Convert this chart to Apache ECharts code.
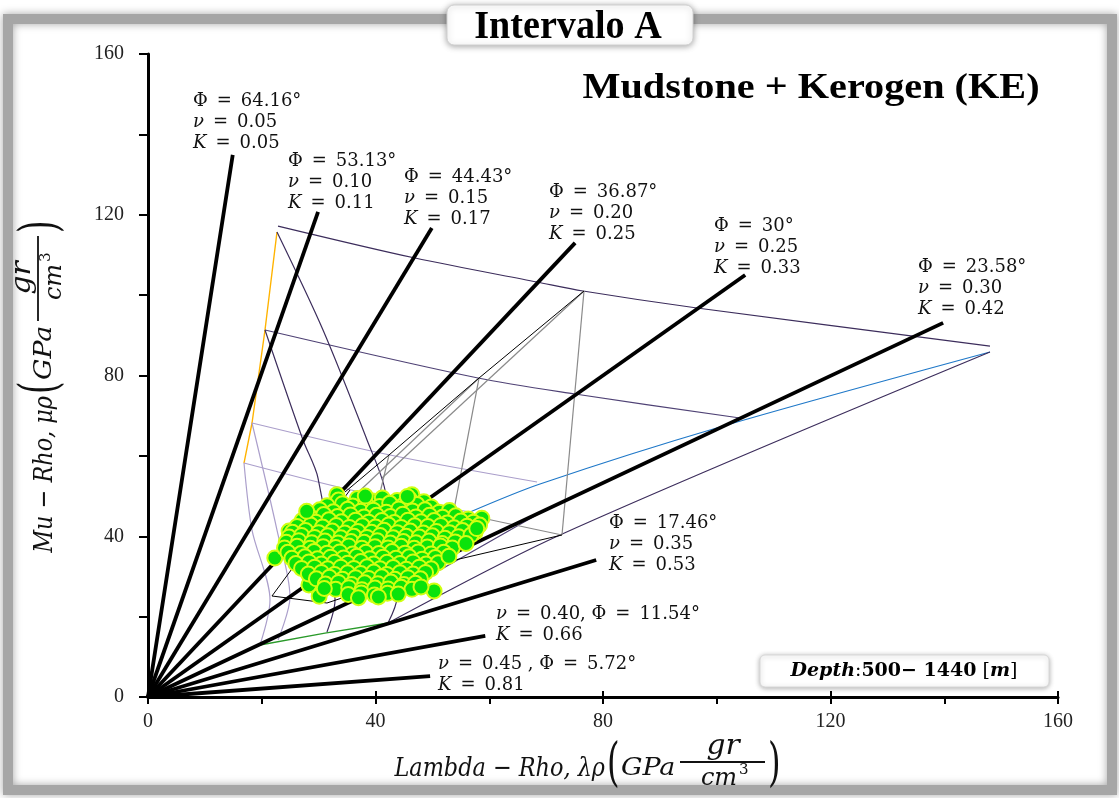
<!DOCTYPE html>
<html><head><meta charset="utf-8">
<script src="https://cdn.jsdelivr.net/npm/echarts/dist/echarts.min.js"></script>
<style>html,body{margin:0;padding:0;background:#fff}#c{width:1119px;height:798px}</style>
</head><body><div id="c"></div><script>
// ---------- DATA ----------
const xTickValues = [0, 40, 80, 120, 160];
const yTickValues = [0, 40, 80, 120, 160];
// Poisson-ratio lines: end points (lambda-rho, mu-rho)
const nuLineEnds = [[14.9,134.9],[29.9,120.7],[49.9,116.7],[75.1,113.0],[105.0,105.0],[139.8,93.1],[78.8,34.1],[59.3,15.2],[49.6,5.2]];
const phiLabels = ['64.16°','53.13°','44.43°','36.87°','30°','23.58°','17.46°','11.54°','5.72°'];
const nuLabels  = ['0.05','0.10','0.15','0.20','0.25','0.30','0.35','0.40','0.45'];
const kLabels   = ['0.05','0.11','0.17','0.25','0.33','0.42','0.53','0.66','0.81'];

// template (mudstone + kerogen) lines
const orangeEdge = [[22.68,115.7],[20.57,91.32],[18.29,68.18],[16.88,58.22]];
const row1 = [[22.86,117.19],[46.95,109.23],[68.4,103.26],[76.48,101.02],[96.53,96.79],[148.04,87.33]];
const row2 = [[20.57,91.32],[58.02,79.37],[75.08,75.39],[104.09,69.42]];
const row3 = [[18.29,68.18],[42.55,60.21],[68.4,53.5]];
const row4 = [[16.88,58.22],[37.27,51.01],[56.62,46.03]];
const blueRow = [[56.62,46.03],[68.92,53.0],[100.57,67.18],[148.04,85.84]];
const lowerEdge = [[42.2,18.41],[72.44,40.31],[148.04,85.84]];
const lowerRow2 = [[51.34,31.6],[68.92,45.78],[104.09,69.42]];
const descend1 = [[22.68,115.7],[30.77,91.32],[38.51,63.95],[41.67,51.51],[43.78,24.88],[42.2,18.41]];
const descend2 = [[20.57,91.32],[27.25,63.95],[29.89,54.49],[32.88,24.14],[31.47,16.17]];
const descend3 = [[18.29,68.18],[22.68,41.55],[24.97,24.88],[22.86,14.18]];
const descend4 = [[16.88,58.22],[18.29,41.55],[21.45,24.14],[19.69,12.94]];
const greenBase = [[19.69,12.94],[31.12,15.92],[42.2,18.41]];
const grayV1 = [[76.66,101.02],[72.79,40.31]];
const grayV2 = [[58.2,79.37],[53.45,44.04]];
const grayV3 = [[42.37,60.21],[40.79,50.76]];
const grayDiag1 = [[76.66,101.02],[41.14,54.49]];
const grayDiag2 = [[58.2,79.37],[35.52,49.02]];
const grayBase = [[49.58,47.28],[72.79,40.31]];
const blackDiag = [[76.66,101.02],[58.2,79.37],[42.37,60.21],[34.64,51.01]];
const blackBase = [[72.79,40.31],[53.98,34.09],[31.47,23.39],[21.8,25.13],[35.52,51.51]];

// measured samples
const samples = [
[22.3,34.6],[24.8,41.3],[33.2,50.3],[46.4,50.3],[58.7,44.5],[56.3,44.3],[50.3,26.4],[30.1,25.1],[28.3,27.9],
[33.5,49.0],[36.8,49.4],[39.5,48.8],[41.2,49.5],[43.8,48.9],[46.0,49.2],[48.5,48.6],
[31.5,47.6],[34.2,48.1],[36.0,47.5],[38.3,48.0],[40.7,47.4],[42.5,48.2],[44.9,47.7],[47.3,47.9],[49.8,47.3],
[30.2,46.6],[32.6,46.1],[35.1,46.7],[37.4,46.2],[39.6,46.5],[41.9,46.0],[44.1,46.8],[46.5,46.3],[48.7,46.6],[51.2,46.0],[53.0,46.4],
[28.4,45.0],[30.9,45.4],[33.3,44.9],[35.6,45.3],[38.0,44.8],[40.2,45.2],[42.6,44.9],[44.8,45.5],[47.1,44.8],[49.5,45.2],[51.8,44.7],[54.1,45.1],
[27.1,43.9],[29.5,43.5],[31.8,44.1],[34.0,43.6],[36.5,44.0],[38.8,43.5],[41.1,43.9],[43.3,43.4],[45.7,44.0],[48.0,43.6],[50.3,43.9],[52.6,43.3],[55.0,43.8],[57.2,43.5],
[26.2,42.4],[28.6,42.8],[30.7,42.3],[33.1,42.7],[35.4,42.2],[37.7,42.6],[40.0,42.3],[42.3,42.8],[44.5,42.2],[46.9,42.6],[49.2,42.4],[51.5,42.7],[53.8,42.1],[56.1,42.5],[58.3,42.8],
[25.4,41.0],[27.7,41.4],[30.0,40.9],[32.4,41.3],[34.6,40.8],[36.9,41.2],[39.3,41.0],[41.5,41.5],[43.8,40.9],[46.1,41.3],[48.4,40.8],[50.7,41.2],[53.0,40.9],[55.3,41.4],[57.5,41.0],
[24.8,39.8],[27.0,40.2],[29.3,39.7],[31.6,40.1],[33.9,39.6],[36.2,40.0],[38.5,39.7],[40.8,40.2],[43.1,39.6],[45.4,40.0],[47.7,39.8],[50.0,40.1],[52.2,39.5],[54.6,39.9],[56.8,40.3],
[24.3,38.5],[26.5,38.9],[28.8,38.4],[31.1,38.8],[33.4,38.3],[35.7,38.7],[38.0,38.5],[40.3,38.9],[42.6,38.3],[44.9,38.7],[47.1,38.4],[49.4,38.8],[51.7,38.2],[54.0,38.6],
[24.0,37.1],[26.2,37.5],[28.5,37.0],[30.8,37.4],[33.0,37.2],[35.3,37.6],[37.6,37.0],[39.9,37.4],[42.2,37.1],[44.5,37.5],[46.8,37.0],[49.1,37.3],[51.4,37.6],[53.5,37.1],
[24.6,36.0],[26.9,35.7],[29.2,36.2],[31.5,35.8],[33.7,36.1],[36.0,35.6],[38.3,36.0],[40.6,35.7],[42.9,36.2],[45.2,35.8],[47.5,36.1],[49.8,35.6],[52.0,36.0],
[25.3,34.5],[27.6,34.9],[29.8,34.4],[32.1,34.8],[34.4,34.6],[36.7,35.0],[39.0,34.4],[41.3,34.8],[43.6,34.5],[45.9,34.9],[48.2,34.3],[50.5,34.7],
[26.0,33.2],[28.3,33.6],[30.5,33.1],[32.8,33.5],[35.1,33.3],[37.4,33.7],[39.7,33.1],[42.0,33.5],[44.3,33.2],[46.6,33.6],[48.9,33.1],[51.0,33.4],
[27.0,32.0],[29.3,32.3],[31.6,31.9],[33.9,32.3],[36.2,32.0],[38.5,32.4],[40.8,31.9],[43.1,32.2],[45.4,31.8],[47.7,32.3],[49.8,31.9],
[28.2,30.6],[30.5,31.0],[32.8,30.5],[35.1,30.9],[37.4,30.7],[39.7,31.1],[42.0,30.5],[44.3,30.9],[46.6,30.6],[48.8,31.0],
[29.6,29.4],[31.9,29.8],[34.2,29.3],[36.5,29.7],[38.8,29.5],[41.1,29.9],[43.4,29.3],[45.7,29.7],[47.9,29.4],
[31.2,28.1],[33.5,28.5],[35.8,28.0],[38.1,28.4],[40.4,28.2],[42.7,28.6],[45.0,28.0],[47.0,28.3],
[33.0,26.8],[35.3,27.2],[37.6,26.7],[39.9,27.1],[42.2,26.9],[44.5,27.3],[46.4,26.8],
[35.2,25.5],[37.5,25.9],[39.8,25.4],[42.1,25.8],[44.0,25.6],
[37.0,24.7],[40.5,24.9],
[55.9,38.2],[57.8,41.9],[52.9,35.0],[27.9,46.2],[45.6,49.9],[38.2,50.0],[31.0,27.0],[48.0,27.4]
];

// ---------- CHART ----------
const chart = echarts.init(document.getElementById('c'));
const SERIF = 'DejaVu Serif';
const TNR = 'Liberation Serif';
const EQ = '\u2002=\u2002';

function tline(data, color, width, smooth) {
  return {type:'line', data:data, showSymbol:false, symbol:'none', silent:true, z:1,
          smooth: smooth || false, lineStyle:{color:color, width:width||1.2}};
}
const DP = '#3c2d5c', MP = '#4f4275', LP = '#ab9fcb', GR = '#8a8a8a';
const series = [
  tline(orangeEdge, '#ffb300', 1.4),
  tline(row1, DP, 1.2, 0.3),
  tline(row2, MP, 1.2, 0.3),
  tline(row3, LP, 1.2, 0.3),
  tline(row4, LP, 1.2, 0.3),
  tline(blueRow, '#1f78c8', 1.2, 0.3),
  tline(lowerEdge, DP, 1.2, 0.3),
  tline(lowerRow2, MP, 1.2),
  tline(descend1, DP, 1.2, 0.3),
  tline(descend2, DP, 1.2, 0.3),
  tline(descend3, LP, 1.2, 0.3),
  tline(descend4, LP, 1.2, 0.3),
  tline(greenBase, '#2a9a2a', 1.3),
  tline(grayV1, GR, 1.2), tline(grayV2, GR, 1.2), tline(grayV3, GR, 1.2),
  tline(grayDiag1, GR, 1.2), tline(grayDiag2, GR, 1.2), tline(grayBase, GR, 1.2),
  tline(blackDiag, '#000', 1), tline(blackBase, '#000', 1)
];
nuLineEnds.forEach(function(e){
  series.push({type:'line', data:[[0,0], e], showSymbol:false, symbol:'none', silent:true, z:3,
               lineStyle:{color:'#000', width:3.8}});
});
series.push({type:'scatter', data:samples, z:5, symbol:'circle', symbolSize:15,
             itemStyle:{color:'#0be30b', borderColor:'#d2ff12', borderWidth:2, opacity:1}});

// label positions (px) for the nu-lines
const labelPos = [[193,101],[288,161],[404,177],[549,192],[714,226],[918,267],[609,523],[496,614],[438,664]];
const FS = 18;
const richStyle = {
  i:{fontStyle:'italic', fontFamily:SERIF, fontSize:FS, fill:'#111'},
  p:{fontFamily:SERIF, fontSize:FS, fill:'#111'}
};
const graphics = [];
// frame
graphics.push({type:'rect', z:-10, shape:{x:8,y:19,width:1104,height:771},
  style:{fill:'none', stroke:'#a6a6a6', lineWidth:10, shadowBlur:8, shadowColor:'rgba(0,0,0,0.35)'}, silent:true});
// labels
labelPos.forEach(function(p, i){
  let txt;
  if (i < 7) txt = '{p|Φ}' + EQ + phiLabels[i] + '\n{i|ν}' + EQ + nuLabels[i] + '\n{i|K}' + EQ + kLabels[i];
  else if (i === 7) txt = '{i|ν}' + EQ + nuLabels[i] + ', {p|Φ}' + EQ + phiLabels[i] + '\n{i|K}' + EQ + kLabels[i];
  else txt = '{i|ν}' + EQ + nuLabels[i] + ' , {p|Φ}' + EQ + phiLabels[i] + '\n{i|K}' + EQ + kLabels[i];
  graphics.push({type:'text', x:p[0], y:p[1]-10.5, z:20, silent:true,
    style:{text:txt, rich:richStyle, fontFamily:SERIF, fontSize:FS, lineHeight:21, fill:'#111',
           textAlign:'left', textVerticalAlign:'top'}});
});
// title box
graphics.push({type:'rect', z:30, shape:{x:447,y:5,width:246,height:40,r:7},
  style:{fill:'#fff', stroke:'#d0d0d0', lineWidth:1, shadowBlur:6, shadowColor:'rgba(0,0,0,0.35)', shadowOffsetY:1}});
graphics.push({type:'text', z:31, x:568, y:27, scaleX:0.93,
  style:{text:'Intervalo A', fontFamily:TNR, fontWeight:'bold', fontSize:41, fill:'#000', textAlign:'center', textVerticalAlign:'middle'}});
graphics.push({type:'text', z:31, x:811, y:89, scaleX:1.15,
  style:{text:'Mudstone + Kerogen (KE)', fontFamily:TNR, fontWeight:'bold', fontSize:35, fill:'#000', textAlign:'center', textVerticalAlign:'middle'}});
// depth box
graphics.push({type:'rect', z:30, shape:{x:760,y:655,width:289,height:32,r:5},
  style:{fill:'#fff', stroke:'#d8d8d8', lineWidth:1, shadowBlur:5, shadowColor:'rgba(0,0,0,0.3)', shadowOffsetY:1}});
graphics.push({type:'text', z:31, x:904, y:671,
  style:{text:'{bi|Depth}{n|:}{b|500− 1440}{n| [}{bi|m}{n|]}', textAlign:'center', textVerticalAlign:'middle',
    rich:{bi:{fontFamily:SERIF, fontStyle:'italic', fontWeight:'bold', fontSize:19, fill:'#000'},
          b:{fontFamily:SERIF, fontWeight:'bold', fontSize:19, fill:'#000'},
          n:{fontFamily:SERIF, fontSize:19, fill:'#000'}}}});

// axis titles built as group (origin = left edge of the opening parenthesis)
function axisTitle(prefix, x, y, rot) {
  return {type:'group', x:x, y:y, rotation:rot, z:25, silent:true, children:[
    {type:'text', x:-2, y:3, scaleX:0.86, style:{text:prefix, fontFamily:SERIF, fontStyle:'italic', fontSize:26, fill:'#111', textAlign:'right', textVerticalAlign:'middle'}},
    {type:'text', x:0, y:0, scaleX:0.62, style:{text:'(', fontFamily:SERIF, fontSize:52, fill:'#111', textAlign:'left', textVerticalAlign:'middle'}},
    {type:'text', x:14, y:3, scaleX:1.12, style:{text:'GPa', fontFamily:SERIF, fontStyle:'italic', fontSize:24, fill:'#111', textAlign:'left', textVerticalAlign:'middle'}},
    {type:'line', shape:{x1:73,y1:-4,x2:158,y2:-4}, style:{stroke:'#111', lineWidth:1.8}},
    {type:'text', x:116, y:-19, scaleX:1.1, style:{text:'gr', fontFamily:SERIF, fontStyle:'italic', fontSize:27, fill:'#111', textAlign:'center', textVerticalAlign:'middle'}},
    {type:'text', x:112, y:13, style:{text:'cm', fontFamily:SERIF, fontStyle:'italic', fontSize:24, fill:'#111', textAlign:'center', textVerticalAlign:'middle'}},
    {type:'text', x:132, y:4, style:{text:'3', fontFamily:SERIF, fontSize:15, fill:'#111', textAlign:'left', textVerticalAlign:'middle'}},
    {type:'text', x:161, y:0, scaleX:0.62, style:{text:')', fontFamily:SERIF, fontSize:52, fill:'#111', textAlign:'left', textVerticalAlign:'middle'}}
  ]};
}
graphics.push(axisTitle('Lambda − Rho, λρ', 607, 766, 0));
graphics.push(axisTitle('Mu − Rho, μρ', 42, 394, Math.PI/2));

const option = {
  backgroundColor:'#fff',
  animation:false,
  grid:{left:148, right:61, top:54, bottom:101, containLabel:false},
  xAxis:[{
    type:'value', min:0, max:160, interval:20,
    axisLine:{lineStyle:{color:'#000', width:3}},
    axisTick:{length:7, lineStyle:{color:'#000', width:2}},
    axisLabel:{formatter:function(v){return xTickValues.indexOf(v)>=0 ? String(v) : '';}, fontFamily:TNR, fontSize:20, color:'#222', margin:15},
    splitLine:{show:false}
  },{
    type:'value', min:0, max:160, interval:40, position:'bottom',
    axisLine:{show:false}, axisTick:{inside:true, length:6, lineStyle:{color:'#000', width:2}},
    axisLabel:{show:false}, splitLine:{show:false}
  }],
  yAxis:[{
    type:'value', min:0, max:160, interval:20,
    axisLine:{lineStyle:{color:'#000', width:3}},
    axisTick:{length:9, lineStyle:{color:'#000', width:2}},
    axisLabel:{formatter:function(v){return yTickValues.indexOf(v)>=0 ? String(v) : '';}, fontFamily:TNR, fontSize:20, color:'#222', margin:24},
    splitLine:{show:false}
  }],
  series:series,
  graphic:graphics
};
chart.setOption(option);
</script></body></html>
